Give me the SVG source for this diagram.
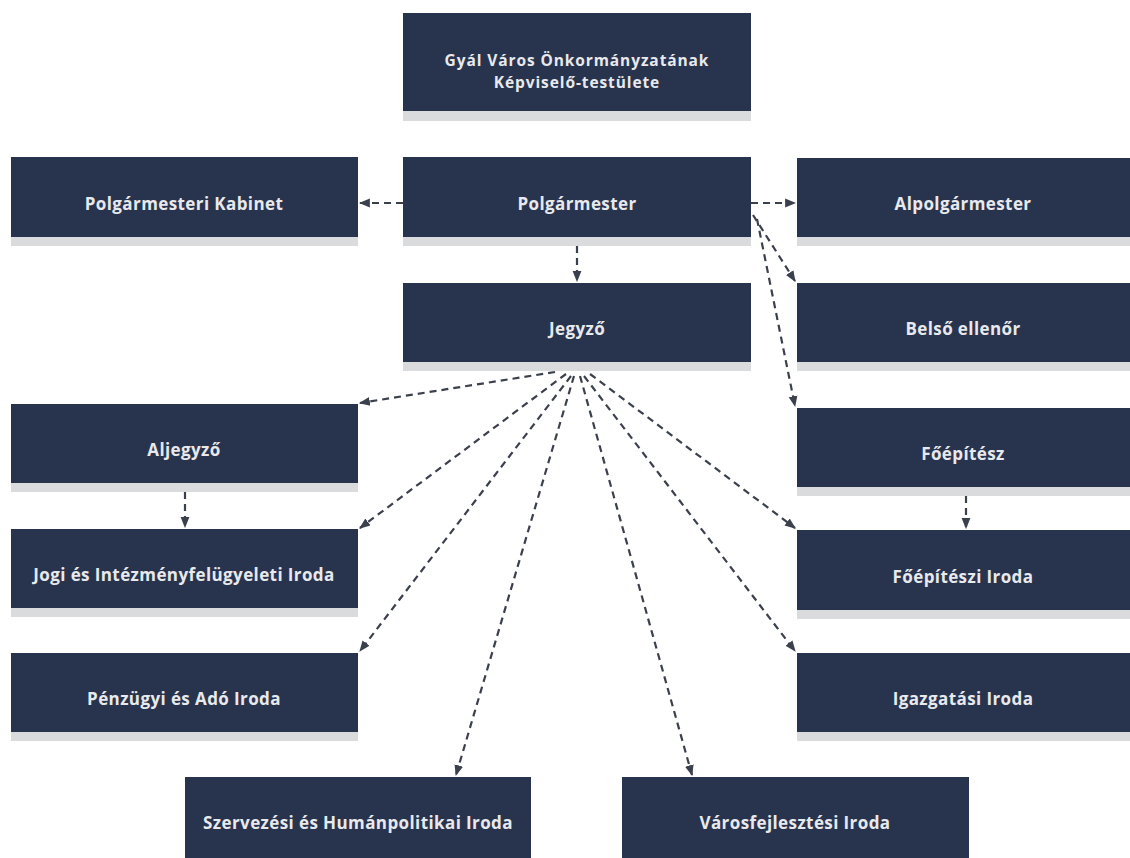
<svg xmlns="http://www.w3.org/2000/svg" width="1130" height="858" viewBox="0 0 1130 858">
<style>
.box{fill:#28344e}
.sh{fill:#dadbdd}
.t{fill:#e8e9ec;font-family:"Open Sans","DejaVu Sans",sans-serif;font-weight:700;font-size:17px;letter-spacing:0.4px;text-anchor:middle}
.tt{font-size:15.5px;letter-spacing:0.9px}
.c{fill:none;stroke:#3b404d;stroke-width:2.2;stroke-dasharray:7 5;marker-end:url(#ah)}
</style>
<defs>
<marker id="ah" viewBox="0 0 10 10" refX="9" refY="5" markerWidth="11" markerHeight="11" markerUnits="userSpaceOnUse" orient="auto">
<path d="M0,1 L10,5 L0,9 Z" fill="#3b404d"/>
</marker>
</defs>
<rect width="1130" height="858" fill="#ffffff"/>
<g id="n-testulet"><rect class="sh" x="403" y="111" width="348" height="10"/><rect class="box" x="403" y="13" width="348" height="98"/><text class="t tt" x="577" y="66">Gyál Város Önkormányzatának</text><text class="t tt" x="577" y="88">Képviselő-testülete</text></g>
<g id="n-kabinet"><rect class="sh" x="11" y="237" width="347" height="9"/><rect class="box" x="11" y="157" width="347" height="80"/><text class="t" x="184" y="210">Polgármesteri Kabinet</text></g>
<g id="n-polgarmester"><rect class="sh" x="403" y="237" width="348" height="9"/><rect class="box" x="403" y="157" width="348" height="80"/><text class="t" x="577" y="210">Polgármester</text></g>
<g id="n-alpolgarmester"><rect class="sh" x="797" y="237" width="333" height="9"/><rect class="box" x="797" y="158" width="333" height="79"/><text class="t" x="963" y="210">Alpolgármester</text></g>
<g id="n-jegyzo"><rect class="sh" x="403" y="362" width="348" height="9"/><rect class="box" x="403" y="283" width="348" height="79"/><text class="t" x="577" y="335">Jegyző</text></g>
<g id="n-belso"><rect class="sh" x="797" y="362" width="333" height="9"/><rect class="box" x="797" y="283" width="333" height="79"/><text class="t" x="963" y="335">Belső ellenőr</text></g>
<g id="n-aljegyzo"><rect class="sh" x="11" y="483" width="347" height="9"/><rect class="box" x="11" y="404" width="347" height="79"/><text class="t" x="184" y="456">Aljegyző</text></g>
<g id="n-foepitesz"><rect class="sh" x="797" y="487" width="333" height="9"/><rect class="box" x="797" y="408" width="333" height="79"/><text class="t" x="963" y="460">Főépítész</text></g>
<g id="n-jogi"><rect class="sh" x="11" y="608" width="347" height="9"/><rect class="box" x="11" y="529" width="347" height="79"/><text class="t" x="184" y="581">Jogi és Intézményfelügyeleti Iroda</text></g>
<g id="n-foepiteszi"><rect class="sh" x="797" y="610" width="333" height="9"/><rect class="box" x="797" y="530" width="333" height="80"/><text class="t" x="963" y="583">Főépítészi Iroda</text></g>
<g id="n-penzugyi"><rect class="sh" x="11" y="732" width="347" height="9"/><rect class="box" x="11" y="653" width="347" height="79"/><text class="t" x="184" y="705">Pénzügyi és Adó Iroda</text></g>
<g id="n-igazgatasi"><rect class="sh" x="797" y="732" width="333" height="9"/><rect class="box" x="797" y="653" width="333" height="79"/><text class="t" x="963" y="705">Igazgatási Iroda</text></g>
<g id="n-szervezesi"><rect class="box" x="185" y="777" width="346" height="81"/><text class="t" x="358" y="829">Szervezési és Humánpolitikai Iroda</text></g>
<g id="n-varosfejlesztesi"><rect class="box" x="622" y="777" width="347" height="81"/><text class="t" x="795" y="829">Városfejlesztési Iroda</text></g>
<g id="connectors">
<path class="c" d="M403,203 L360,203"/>
<path class="c" d="M751,203 L795,203"/>
<path class="c" d="M577,246 L577,281"/>
<path class="c" d="M753,215 L795,281"/>
<path class="c" d="M757,219 L795,406"/>
<path class="c" d="M555,372 L360,403"/>
<path class="c" d="M566,374 L360,528"/>
<path class="c" d="M571,376 L360,651"/>
<path class="c" d="M574,376 L456,775"/>
<path class="c" d="M580,376 L692,775"/>
<path class="c" d="M584,376 L795,651"/>
<path class="c" d="M590,374 L795,528"/>
<path class="c" d="M185,492 L185,527"/>
<path class="c" d="M966,496 L966,528"/>
</g>
</svg>
